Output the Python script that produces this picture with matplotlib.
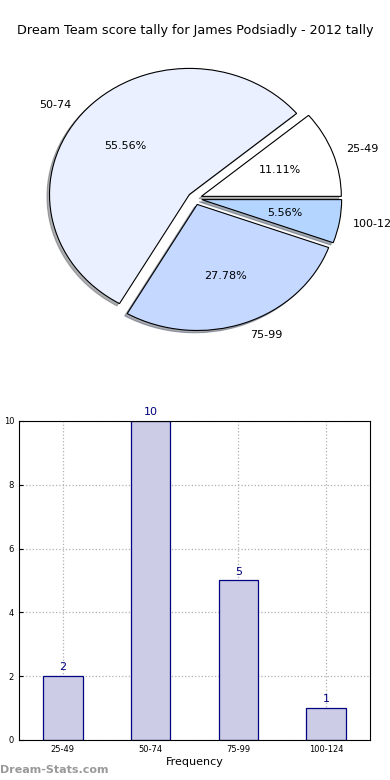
import matplotlib
matplotlib.use('Agg')
import matplotlib.pyplot as plt

# score ranges and how many rounds fell in each
ranges = ['25-49', '50-74', '75-99', '100-124']
counts = [2, 10, 5, 1]

# pie goes round in a different order
pie_labels = ['25-49', '50-74', '75-99', '100-124']
pie_counts = [2, 10, 5, 1]
pie_colors = ['#ffffff', '#eaf0ff', '#c5d8ff', '#b3d5ff']

fig = plt.figure(figsize=(3.9, 7.8), dpi=100)
fig.text(0.5, 0.961, 'Dream Team score tally for James Podsiadly - 2012 tally',
         ha='center', va='center', fontsize=9.2)

# top: pie
ax1 = fig.add_axes([0.051, 0.5435, 0.897, 0.404])
wedges, texts, autotexts = ax1.pie(pie_counts, labels=pie_labels, colors=pie_colors,
                                   autopct='%1.2f%%', explode=[0.05] * 4,
                                   shadow={'ox': -0.013, 'oy': -0.013, 'shade': 0.6},
                                   startangle=0, counterclock=True,
                                   wedgeprops={'linewidth': 0.8, 'edgecolor': 'black'},
                                   textprops={'fontsize': 8})
ax1.set_aspect('auto')
ax1.set_xlim(-1.25, 1.25)
ax1.set_ylim(-1.25, 1.25)

# bottom: bars
ax2 = fig.add_axes([0.0487, 0.0513, 0.9, 0.409])
x = list(range(len(ranges)))
bars = ax2.bar(x, counts, width=0.45, color='#ccccE6', edgecolor='#000080', linewidth=0.9, zorder=2)
for xi, c in zip(x, counts):
    ax2.text(xi, c + 0.12, str(c), ha='center', va='bottom', color='#000080', fontsize=8)
ax2.set_xlim(-0.5, 3.5)
ax2.set_ylim(0, 10)
ax2.set_xticks(x)
ax2.set_xticklabels(ranges)
ax2.set_yticks([0, 2, 4, 6, 8, 10])
ax2.tick_params(labelsize=6, direction='in', length=3)
ax2.grid(True, linestyle=':', color='#b0b0b0', linewidth=0.9, zorder=0)
ax2.set_axisbelow(True)
ax2.set_xlabel('Frequency', fontsize=8, labelpad=2)
ax2.set_ylabel('Number of Rounds', fontsize=6)
ax2.yaxis.set_label_coords(-0.067, 0.5)

fig.text(0.0, 0.013, 'Dream-Stats.com', color='#999999', fontsize=8, fontweight='bold',
         ha='left', va='center')

fig.savefig('out.png', dpi=100)
